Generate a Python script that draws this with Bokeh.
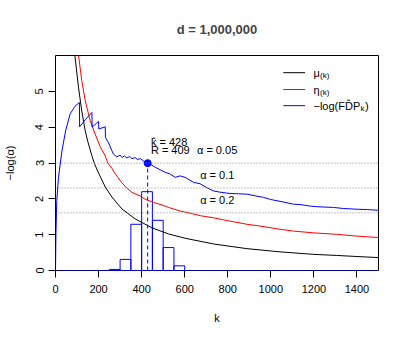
import math
from bokeh.plotting import figure
from bokeh.models import FixedTicker, Span, Label
from bokeh.embed import file_html
from bokeh.resources import INLINE

# ---------------- data ----------------
mu_k = [80, 91, 107, 122, 138, 150, 169, 181, 200, 231, 262, 308, 370, 448, 525,
        602, 734, 889, 1043, 1200, 1306, 1400, 1500]
mu_v = [6.75, 5.95, 5.1, 4.45, 3.9, 3.6, 3.2, 2.98, 2.72, 2.33, 2.05, 1.72, 1.44, 1.19, 1.02,
        0.9, 0.74, 0.61, 0.52, 0.45, 0.42, 0.39, 0.36]

eta_k = [100, 107, 122, 138, 161, 184, 208, 231, 243, 262, 277, 308, 331, 355, 393, 416,
         455, 494, 525, 579, 625, 672, 734, 800, 889, 950, 1043, 1105, 1200, 1306, 1400, 1500]
eta_v = [6.4, 6.0, 5.3, 4.74, 4.18, 3.81, 3.45, 3.2, 3.0, 2.85, 2.7, 2.45, 2.3, 2.18, 2.08, 1.99,
         1.9, 1.83, 1.76, 1.66, 1.6, 1.53, 1.47, 1.39, 1.29, 1.24, 1.15, 1.10, 1.05, 1.01, 0.96, 0.92]

fdp_k = [0, 2, 6, 14, 30, 47, 68, 90, 111, 112, 140, 169, 170, 200, 201, 231, 232, 246,
         262, 269, 285, 293, 300, 310, 320, 330, 345, 355, 370, 380, 395, 410, 428, 445,
         463, 480, 509, 530, 556, 579, 602, 641, 672, 700, 734, 760, 796, 811, 850, 889,
         930, 966, 1000, 1043, 1105, 1136, 1180, 1214, 1250, 1291, 1337, 1400, 1450, 1500]
fdp_v = [0, 1.0, 1.95, 2.6, 3.34, 3.9, 4.37, 4.58, 4.69, 4.01, 4.22, 4.41, 4.0, 4.16, 3.95, 4.01, 3.71, 3.57,
         3.34, 3.25, 3.17, 3.2, 3.22, 3.15, 3.2, 3.14, 3.18, 3.12, 3.15, 3.1, 3.12, 3.05, 3.0, 2.95,
         2.88, 2.83, 2.74, 2.7, 2.6, 2.64, 2.6, 2.46, 2.42, 2.32, 2.22, 2.19, 2.16, 2.15, 2.14, 2.13,
         2.08, 2.04, 1.98, 1.93, 1.85, 1.84, 1.80, 1.78, 1.77, 1.76, 1.73, 1.71, 1.70, 1.68]

hist_left = [250, 300, 350, 400, 450, 500, 550]
hist_right = [300, 350, 400, 450, 500, 550, 600]
hist_height = [0.03, 0.31, 1.29, 2.2, 1.40, 0.64, 0.13]

alphas = [0.05, 0.1, 0.2]
alpha_labels = ["α = 0.05", "α = 0.1", "α = 0.2"]
alpha_label_k = [657, 672, 672]

k_hat = 428
R = 409

x_ticks = [0, 200, 400, 600, 800, 1000, 1200, 1400]
y_ticks = [0, 1, 2, 3, 4, 5]

title_text = "d = 1,000,000"

# legend entries: (main text, subscript, trailing text, colour)
legend_main = ["μ", "η", "−log(FD̂P"]
legend_sub = ["(k)", "(k)", "k"]
legend_tail = ["", "", ")"]
legend_colors = ["black", "red", "blue"]

FONT = "Liberation Sans"
X_MAX, Y_MAX = 1500, 6

p = figure(frame_width=323, frame_height=215, x_range=(0, X_MAX), y_range=(0, Y_MAX),
           output_backend="svg", toolbar_location=None,
           min_border_left=55, min_border_right=20, min_border_top=55, min_border_bottom=60,
           title=title_text)
p.background_fill_color = "white"
p.border_fill_color = "white"
p.outline_line_color = "black"
p.outline_line_width = 1
p.xgrid.visible = False
p.ygrid.visible = False

p.title.align = "center"
p.title.text_font = FONT
p.title.text_font_size = "13px"
p.title.text_font_style = "bold"
p.title.standoff = 38

for ax in (p.xaxis[0], p.yaxis[0]):
    ax.axis_line_color = None
    ax.major_tick_in = 0
    ax.major_tick_out = 7
    ax.minor_tick_out = 0
    ax.minor_tick_in = 0
    ax.major_tick_line_color = "black"
    ax.major_label_text_font = FONT
    ax.major_label_text_font_size = "11px"
    ax.major_label_text_color = "black"
    ax.axis_label_text_font = FONT
    ax.axis_label_text_font_size = "11px"
    ax.axis_label_text_font_style = "normal"
    ax.axis_label_text_color = "black"

p.xaxis.ticker = FixedTicker(ticks=x_ticks)
p.yaxis.ticker = FixedTicker(ticks=y_ticks)
p.xaxis.axis_label = "k"
p.yaxis.axis_label = "−log(α)"
p.xaxis.major_label_standoff = 7
p.xaxis.axis_label_standoff = 16
p.yaxis.major_label_orientation = "vertical"
p.yaxis.major_label_standoff = 5
p.yaxis.axis_label_standoff = 17

# alpha reference lines
for a in alphas:
    p.add_layout(Span(location=-math.log(a), dimension="width", line_color="#888888",
                      line_dash="1 2", line_width=1))

# histogram
p.quad(left=hist_left, right=hist_right, bottom=0, top=hist_height,
       fill_color=None, line_color="blue", line_width=1)

# curves
p.line(mu_k, mu_v, line_color="black", line_width=1)
p.line(eta_k, eta_v, line_color="red", line_width=1)
p.line(fdp_k, fdp_v, line_color="blue", line_width=1)

# baseline
p.add_layout(Span(location=0, dimension="width", line_color="blue", line_width=1.2))

# k-hat marker
y_hat = -math.log(alphas[0])
p.segment(x0=[k_hat], y0=[0], x1=[k_hat], y1=[y_hat], line_color="blue",
          line_dash="4 3", line_width=1)
p.scatter([k_hat], [y_hat], size=7, color="blue")

# annotations
p.add_layout(Label(x=k_hat + 15, y=3.43, text="k̂ = %d" % k_hat, text_font=FONT,
                   text_font_size="11px", text_color="black"))
p.add_layout(Label(x=k_hat + 15, y=3.2, text="R = %d" % R, text_font=FONT,
                   text_font_size="11px", text_color="black"))
for a, t, kx in zip(alphas, alpha_labels, alpha_label_k):
    p.add_layout(Label(x=kx, y=-math.log(a) + 0.2, text=t, text_font=FONT,
                       text_font_size="11px", text_color="black"))

# legend (drawn inside the frame, top right, no box)
PX = X_MAX / 323.0          # data units per pixel, x
PY = Y_MAX / 215.0          # data units per pixel, y
leg_x0, leg_x1, leg_tx = 1058, 1159, 1198
leg_y = [5.52, 5.05, 4.60]
p.segment(x0=[leg_x0] * 3, x1=[leg_x1] * 3, y0=leg_y, y1=leg_y,
          line_color=legend_colors, line_width=1)
main_w = [6.5, 6.5, 47.0]   # rendered widths in px of the main texts
for yv, m, s, t, w in zip(leg_y, legend_main, legend_sub, legend_tail, main_w):
    p.add_layout(Label(x=leg_tx, y=yv, text=m, text_font=FONT, text_font_size="11px",
                       text_baseline="middle", text_color="black"))
    p.add_layout(Label(x=leg_tx + w * PX, y=yv - 3 * PY, text=s, text_font=FONT,
                       text_font_size="8px", text_baseline="middle", text_color="black"))
    if t:
        p.add_layout(Label(x=leg_tx + (w + 4.5) * PX, y=yv, text=t, text_font=FONT,
                           text_font_size="11px", text_baseline="middle", text_color="black"))

open("out.html", "w").write(file_html(p, INLINE))
